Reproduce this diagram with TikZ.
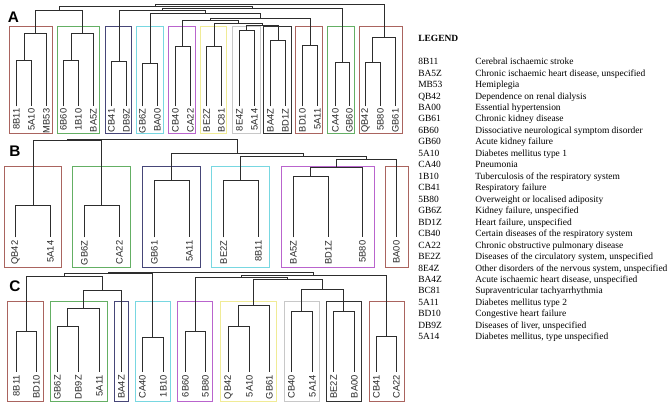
\documentclass[tikz,border=0pt]{standalone}
\usepackage{fontspec}
\setmainfont{Liberation Serif}
\setsansfont{Liberation Sans}
\definecolor{cbrown}{RGB}{170,100,95}
\definecolor{cgreen}{RGB}{100,175,100}
\definecolor{cnavy}{RGB}{70,70,120}
\definecolor{ccyan}{RGB}{120,215,225}
\definecolor{cpurple}{RGB}{185,100,205}
\definecolor{cyellow}{RGB}{240,235,150}
\definecolor{cgray}{RGB}{200,200,200}
\definecolor{cblack}{RGB}{50,50,50}
\definecolor{treec}{RGB}{45,45,45}
\definecolor{labc}{RGB}{40,40,40}
\newcommand\jn[5]{\coordinate (#1) at (#2,#3); \draw[tree] (#4) |- (#1) -| (#5);}
\begin{document}
\begin{tikzpicture}[x=0.75pt,y=-0.75pt,
  tree/.style={draw=treec, line width=0.75pt},
  bx/.style={draw=#1, line width=0.75pt},
  lab/.style={font=\sffamily\fontsize{7}{8}\selectfont, text=labc, rotate=90, anchor=east, inner sep=0pt},
  panel/.style={font=\sffamily\bfseries\fontsize{11.5}{12}\selectfont, inner sep=0pt},
  legc/.style={font=\fontsize{7.1}{8}\selectfont, anchor=base west, inner sep=0pt},
  legh/.style={font=\bfseries\fontsize{7.1}{8}\selectfont, anchor=base west, inner sep=0pt}]
\useasboundingbox[fill=white] (0,0) rectangle (669,403);

% ---------- Panel A ----------
\node[panel] (pA) at (13.5,17.5) {A};
\foreach \l/\r/\c in {9.5/52.5/cbrown, 57.5/99.5/cgreen, 105.5/131.5/cnavy, 136.5/163.5/ccyan,
  168.5/195.5/cpurple, 200.5/226.5/cyellow, 232.5/260.5/cgray, 263.5/291.5/cblack,
  295.5/322.5/cbrown, 327.5/354.5/cgreen, 359.5/402.5/cbrown}
  {\draw[bx=\c] (\l,26.5) rectangle (\r,133.5);}
\foreach \x/\t [count=\i] in {16.5/8B11, 31.5/5A10, 46.5/MB53, 63.5/6B60, 78.5/1B10, 93.5/BA5Z,
  111.5/CB41, 126.5/DB9Z, 142.5/GB6Z, 157.5/BA00, 175.5/CB40, 190.5/CA22, 206.5/BE2Z, 221.5/BC81,
  239.5/8E4Z, 254.5/5A14, 270.5/BA4Z, 285.5/BD1Z, 302.5/BD10, 317.5/5A11, 335.5/CA40, 349.5/GB60,
  365.5/QB42, 380.5/5B80, 395.5/GB61}
  {\coordinate (a\i) at (\x,106.5); \node[lab] (la\i) at (\x,108.5) {\t};}
\jn{A1}{24.5}{60.5}{a1}{a2}
\jn{A2}{35.5}{33.5}{A1}{a3}
\jn{A3}{71.5}{60.5}{a4}{a5}
\jn{A4}{82.5}{33.5}{A3}{a6}
\jn{A5}{119.5}{61.5}{a7}{a8}
\jn{A6}{150.5}{63.5}{a9}{a10}
\jn{A7}{182.5}{46.5}{a11}{a12}
\jn{A8}{214.5}{46.5}{a13}{a14}
\jn{A9}{246.5}{30.5}{a15}{a16}
\jn{A10}{278.5}{40.5}{a17}{a18}
\jn{A11}{310.5}{45.5}{a19}{a20}
\jn{A12}{342.5}{62.5}{a21}{a22}
\jn{A13}{372.5}{62.5}{a23}{a24}
\jn{A14}{384.5}{37.5}{A13}{a25}
\jn{A15}{262.5}{25.5}{A9}{A10}
\jn{A16}{238.5}{23.5}{A8}{A15}
\jn{A17}{210.5}{20.5}{A7}{A16}
\jn{A18}{260.5}{18.5}{A17}{A11}
\jn{A19}{205.5}{13.5}{A6}{A18}
\jn{A20}{162.5}{10.5}{A5}{A19}
\jn{A21}{252.5}{8.5}{A20}{A12}
\jn{A22}{59.5}{10.5}{A2}{A4}
\jn{A23}{155.5}{6.5}{A22}{A21}
\jn{A24}{269.5}{4.5}{A23}{A14}

% ---------- Panel B ----------
\node[panel] (pB) at (15,151) {B};
\foreach \l/\r/\c in {4.5/61.5/cbrown, 72.5/130.5/cgreen, 142.5/200.5/cnavy, 211.5/269.5/ccyan,
  281.5/374.5/cpurple, 385.5/408.5/cbrown}
  {\draw[bx=\c] (\l,166.5) rectangle (\r,267.5);}
\foreach \x/\t [count=\i] in {15.5/QB42, 50.5/5A14, 84.5/GB6Z, 119.5/CA22, 154.5/GB61, 189.5/5A11,
  223.5/BE2Z, 258.5/8B11, 293.5/BA5Z, 328.5/BD1Z, 362.5/5B80, 396.5/BA00}
  {\coordinate (b\i) at (\x,237.5); \node[lab] (lb\i) at (\x,240.5) {\t};}
\jn{B1}{33.5}{205.5}{b1}{b2}
\jn{B2}{101.5}{205.5}{b3}{b4}
\jn{B3}{171.5}{180.5}{b5}{b6}
\jn{B4}{240.5}{180.5}{b7}{b8}
\jn{B5}{310.5}{176.5}{b9}{b10}
\jn{B6}{336.5}{167.5}{B5}{b11}
\jn{B7}{366.5}{159.5}{B6}{b12}
\jn{B8}{303.5}{156.5}{B4}{B7}
\jn{B9}{237.5}{153.5}{B3}{B8}
\jn{B10}{67.5}{140.5}{B1}{B2}
\jn{B11}{152.5}{139.5}{B10}{B9}

% ---------- Panel C ----------
\node[panel] (pC) at (15,286) {C};
\foreach \l/\r/\c in {7.5/43.5/cbrown, 50.5/107.5/cgreen, 114.5/128.5/cnavy, 135.5/170.5/ccyan,
  177.5/212.5/cpurple, 220.5/276.5/cyellow, 284.5/319.5/cgray, 326.5/361.5/cblack, 369.5/404.5/cbrown}
  {\draw[bx=\c] (\l,301.5) rectangle (\r,401.5);}
\foreach \x/\t [count=\i] in {16.5/8B11, 36.5/BD10, 57.5/GB6Z, 78.5/DB9Z, 99.5/5A11, 121.5/BA4Z,
  142.5/CA40, 163.5/1B10, 185.5/6B60, 205.5/5B80, 228.5/QB42, 249.5/5A10, 269.5/GB61,
  291.5/CB40, 312.5/5A14, 333.5/BE2Z, 354.5/BA00, 376.5/CB41, 396.5/CA22}
  {\coordinate (c\i) at (\x,371.5); \node[lab] (lc\i) at (\x,375) {\t};}
\jn{C1}{26.5}{331.5}{c1}{c2}
\jn{C2}{67.5}{326.5}{c3}{c4}
\jn{C3}{83.5}{308.5}{C2}{c5}
\jn{C4}{102.5}{290.5}{C3}{c6}
\jn{C5}{64.5}{276.5}{C1}{C4}
\jn{C6}{152.5}{337.5}{c7}{c8}
\jn{C7}{108.5}{273.5}{C5}{C6}
\jn{C8}{195.5}{331.5}{c9}{c10}
\jn{C9}{238.5}{326.5}{c11}{c12}
\jn{C10}{253.5}{305.5}{C9}{c13}
\jn{C11}{301.5}{311.5}{c14}{c15}
\jn{C12}{343.5}{311.5}{c16}{c17}
\jn{C13}{322.5}{289.5}{C11}{C12}
\jn{C14}{287.5}{279.5}{C10}{C13}
\jn{C15}{241.5}{277.5}{C8}{C14}
\jn{C16}{386.5}{336.5}{c18}{c19}
\jn{C17}{313.5}{275.5}{C15}{C16}
\jn{C18}{210.5}{272.5}{C7}{C17}

% ---------- Legend ----------
\node[legh] (legend) at (418,41.5) {LEGEND};
\foreach \c/\d [count=\i] in {8B11/Cerebral ischaemic stroke,
  BA5Z/{Chronic ischaemic heart disease, unspecified},
  MB53/Hemiplegia,
  QB42/Dependence on renal dialysis,
  BA00/Essential hypertension,
  GB61/Chronic kidney disease,
  6B60/Dissociative neurological symptom disorder,
  GB60/Acute kidney failure,
  5A10/Diabetes mellitus type 1,
  CA40/Pneumonia,
  1B10/Tuberculosis of the respiratory system,
  CB41/Respiratory failure,
  5B80/Overweight or localised adiposity,
  GB6Z/{Kidney failure, unspecified},
  BD1Z/{Heart failure, unspecified},
  CB40/Certain diseases of the respiratory system,
  CA22/Chronic obstructive pulmonary disease,
  BE2Z/{Diseases of the circulatory system, unspecified},
  8E4Z/{Other disorders of the nervous system, unspecified},
  BA4Z/{Acute ischaemic heart disease, unspecified},
  BC81/Supraventricular tachyarrhythmia,
  5A11/Diabetes mellitus type 2,
  BD10/Congestive heart failure,
  DB9Z/{Diseases of liver, unspecified},
  5A14/{Diabetes mellitus, type unspecified}}
  {\node[legc] (lk\i) at (418,{64.6+11.47*(\i-1)}) {\c};
   \node[legc] (ld\i) at (475,{64.6+11.47*(\i-1)}) {\d};}
\end{tikzpicture}
\end{document}
